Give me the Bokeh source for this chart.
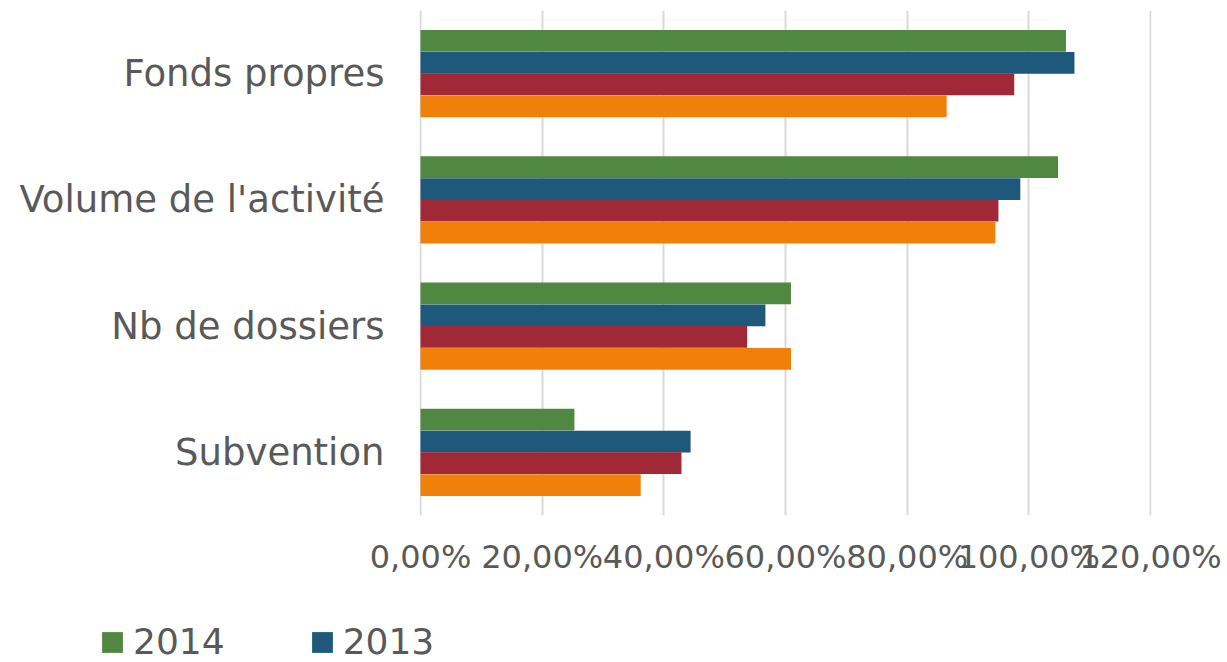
from bokeh.plotting import figure
from bokeh.layouts import column
from bokeh.models import FactorRange, Range1d, ColumnDataSource, FixedTicker, Legend, LegendItem
from bokeh.transform import dodge
from bokeh.embed import file_html
from bokeh.resources import INLINE

categories = ["Fonds propres", "Volume de l'activité", "Nb de dossiers", "Subvention"]
series_names = ["2014", "2013", "2012", "2011"]
v2014 = [106.1, 104.8, 60.9, 25.3]
v2013 = [107.5, 98.6, 56.7, 44.4]
v2012 = [97.6, 95.0, 53.7, 42.9]
v2011 = [86.5, 94.5, 60.9, 36.2]
tick_values = [0, 20, 40, 60, 80, 100, 120]
tick_labels = ["0,00%", "20,00%", "40,00%", "60,00%", "80,00%", "100,00%", "120,00%"]
colors = ["#508741", "#1E587A", "#A02837", "#F0800A"]

FONT = "DejaVu Sans"
TXT = "#595959"

src = ColumnDataSource(dict(cat=categories, s2014=v2014, s2013=v2013, s2012=v2012, s2011=v2011))

p = figure(width=1227, height=610, output_backend="svg", toolbar_location=None,
           y_range=FactorRange(factors=list(reversed(categories)), range_padding=0),
           x_range=Range1d(-0.165, 120.165),
           min_border_left=419, min_border_right=76, min_border_top=10, min_border_bottom=95)
p.outline_line_color = None
p.frame_align = False

bar_h = 0.1725
offsets = [0.259, 0.086, -0.086, -0.259]
cols = ["s2014", "s2013", "s2012", "s2011"]
for c, off, col in zip(cols, offsets, colors):
    p.hbar(y=dodge("cat", off, range=p.y_range), left=0, right=c, height=bar_h,
           source=src, fill_color=col, line_color=None)

p.xaxis.ticker = FixedTicker(ticks=tick_values)
p.xaxis.major_label_overrides = {v: l for v, l in zip(tick_values, tick_labels)}
for ax in (p.xaxis[0], p.yaxis[0]):
    ax.axis_line_color = None
    ax.major_tick_line_color = None
    ax.minor_tick_line_color = None
    ax.major_label_text_font = FONT
    ax.major_label_text_color = TXT
p.xaxis.major_label_text_font_size = "32px"
p.yaxis.major_label_text_font_size = "37px"
p.xaxis.major_label_standoff = 16
p.yaxis.major_label_standoff = 29

p.ygrid.grid_line_color = None
p.xgrid.grid_line_color = "#D9D9D9"
p.xgrid.grid_line_width = 2

# legend strip (only the first two entries fit in the visible area)
lg = figure(width=1227, height=52, output_backend="svg", toolbar_location=None,
            x_range=Range1d(0, 1), y_range=Range1d(0, 1),
            x_axis_location=None, y_axis_location=None,
            min_border_left=0, min_border_right=0, min_border_top=0, min_border_bottom=0)
lg.outline_line_color = None
lg.frame_align = False
lg.xgrid.grid_line_color = None
lg.ygrid.grid_line_color = None
hidden = ColumnDataSource(dict(y=[50.0], left=[50.0], right=[51.0]))
lr = [lg.hbar(y="y", left="left", right="right", height=0.1, source=hidden,
              fill_color=col, line_color=None)
      for col in colors[:2]]

legend = Legend(items=[LegendItem(label=series_names[0], renderers=[lr[0]]),
                       LegendItem(label=series_names[1], renderers=[lr[1]])],
                orientation="horizontal", location=(99, 0))
legend.label_text_font = FONT
legend.label_text_font_size = "36px"
legend.label_text_color = TXT
legend.glyph_width = 26
legend.glyph_height = 26
legend.label_standoff = 8
legend.spacing = 84
legend.padding = 0
legend.margin = 0
legend.border_line_color = None
legend.background_fill_alpha = 0
lg.add_layout(legend, "center")

layout = column(p, lg, spacing=0)
open("out.html", "w").write(file_html(layout, INLINE))
